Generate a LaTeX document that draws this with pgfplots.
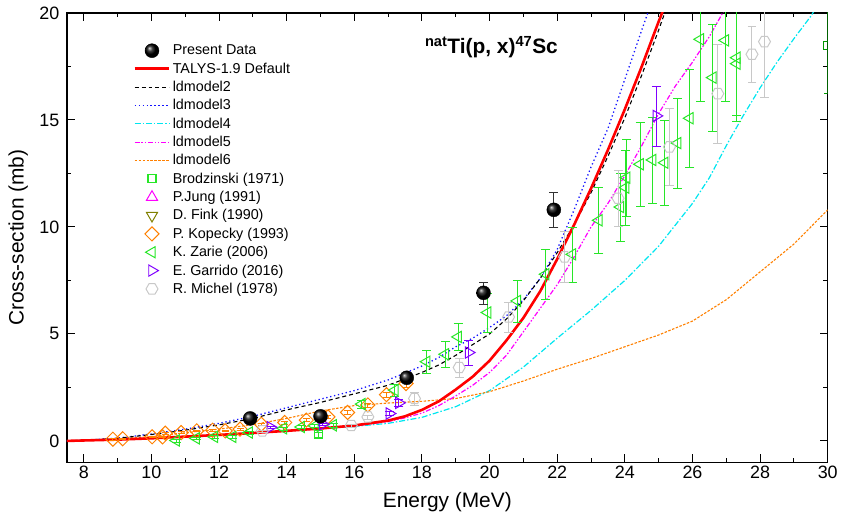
\documentclass[border=0pt]{standalone}
\usepackage{fontspec}
\setmainfont{Liberation Sans}
\usepackage{pgfplots}
\pgfplotsset{compat=1.18}
\definecolor{cgreen}{RGB}{40,230,40}
\definecolor{cmag}{RGB}{255,0,255}
\definecolor{colive}{RGB}{128,128,0}
\definecolor{corange}{RGB}{255,128,0}
\definecolor{cpurple}{RGB}{128,0,255}
\definecolor{cgray}{RGB}{200,200,200}
\definecolor{cblue}{RGB}{20,20,255}
\definecolor{ccyan}{RGB}{0,230,240}
\definecolor{cred}{RGB}{255,0,0}
\definecolor{cdkgreen}{RGB}{0,150,0}
\pgfdeclareplotmark{hexagon}{%
  \pgfpathmoveto{\pgfqpointpolar{0}{\pgfplotmarksize}}%
  \pgfpathlineto{\pgfqpointpolar{60}{\pgfplotmarksize}}%
  \pgfpathlineto{\pgfqpointpolar{120}{\pgfplotmarksize}}%
  \pgfpathlineto{\pgfqpointpolar{180}{\pgfplotmarksize}}%
  \pgfpathlineto{\pgfqpointpolar{240}{\pgfplotmarksize}}%
  \pgfpathlineto{\pgfqpointpolar{300}{\pgfplotmarksize}}%
  \pgfpathclose\pgfusepathqstroke}
\pgfplotsset{
  legline/.style={legend image code/.code={\draw[##1] (0bp,0bp) -- (35bp,0bp);}},
  legmark/.style={legend image code/.code={\draw[mark repeat=2,mark phase=2,##1] plot coordinates {(0bp,0bp) (17.5bp,0bp) (35bp,0bp)};}},
  errs/.style={error bars/y dir=both, error bars/y explicit},
}
\begin{document}
\begin{tikzpicture}
\begin{axis}[
  width=762bp, height=450bp, scale only axis,
  xmin=7.5, xmax=30, ymin=-1, ymax=20,
  xtick={8,10,...,30}, minor x tick num=1,
  ytick={0,5,...,20}, minor y tick num=1,
  tick pos=both, tick align=inside,
  major tick length=8bp, minor tick length=4.5bp,
  axis line style={line width=1.3bp},
  every tick/.style={line width=1bp, black},
  /pgf/number format/assume math mode=true,
  ticklabel style={font=\fontsize{18}{21}\selectfont},
  yticklabel style={xshift=-4bp},
  xlabel={Energy (MeV)}, ylabel={Cross-section (mb)},
  label style={font=\fontsize{21}{24}\selectfont},
  ylabel style={at={(axis description cs:-0.064,0.5)}, anchor=center, inner sep=0pt},
  xlabel style={at={(axis description cs:0.5,-0.088)}, anchor=center},
  clip marker paths=true,
  legend cell align=left,
  legend style={draw=none, fill=none, at={(0.083,0.938)}, anchor=north west,
    font=\fontsize{14.4}{16}\selectfont, row sep=2.5bp},
]
% legend images
\addlegendimage{legmark, only marks, mark=ball, mark size=7bp, ball color=black}
\addlegendentry{Present Data}
\addlegendimage{legline, cred, line width=2.6bp}
\addlegendentry{TALYS-1.9 Default}
\addlegendimage{legline, black, line width=1.1bp, dash pattern=on 4bp off 3bp}
\addlegendentry{ldmodel2}
\addlegendimage{legline, cblue, line width=1.3bp, dash pattern=on 1.3bp off 2.7bp}
\addlegendentry{ldmodel3}
\addlegendimage{legline, ccyan, line width=1.3bp, dash pattern=on 6bp off 2bp on 1.5bp off 2bp}
\addlegendentry{ldmodel4}
\addlegendimage{legline, draw=cmag, line width=1.3bp, dash pattern=on 5bp off 1.8bp on 1.5bp off 1.8bp on 1.5bp off 1.8bp}
\addlegendentry{ldmodel5}
\addlegendimage{legline, draw=corange, line width=1.3bp, dash pattern=on 2.5bp off 1.5bp}
\addlegendentry{ldmodel6}
\addlegendimage{legmark, only marks, draw=cgreen, mark=square, mark size=4bp, mark options={line width=1.1bp, draw=cgreen}}
\addlegendentry{Brodzinski (1971)}
\addlegendimage{legmark, only marks, cmag, mark=triangle, mark size=6.5bp, mark options={line width=1bp}}
\addlegendentry{P.Jung (1991)}
\addlegendimage{legmark, only marks, colive, mark=triangle, mark size=6.5bp, mark options={line width=1bp, rotate=180}}
\addlegendentry{D. Fink (1990)}
\addlegendimage{legmark, only marks, corange, mark=square, mark size=5bp, mark options={line width=1bp, rotate=45}}
\addlegendentry{P. Kopecky (1993)}
\addlegendimage{legmark, only marks, cgreen, mark=triangle, mark size=6.5bp, mark options={line width=1bp, rotate=90}}
\addlegendentry{K. Zarie (2006)}
\addlegendimage{legmark, only marks, cpurple, mark=triangle, mark size=6.5bp, mark options={line width=1bp, rotate=-90}}
\addlegendentry{E. Garrido (2016)}
\addlegendimage{legmark, only marks, cgray, mark=hexagon, mark size=6bp, mark options={line width=1bp}}
\addlegendentry{R. Michel (1978)}

% model curves
\addplot[forget plot, ccyan, line width=1.2bp, dash pattern=on 6bp off 2bp on 1.5bp off 2bp] coordinates {
(7.5,0) (8,0.02) (9,0.06) (10,0.12) (11,0.2) (12,0.28) (13,0.37) (14,0.47) (15,0.57) (16,0.68) (17,0.82) (18,1.1) (19,1.6) (20,2.35) (21,3.45) (22,4.8) (23,6.1) (24,7.5) (25,9.1) (26,11.1) (26.5,12.3) (27,13.8) (27.5,15.2) (28,16.5) (28.5,17.7) (29,18.8) (29.5,19.85) (29.6,20.1)};
\addplot[forget plot, corange, line width=1.1bp, dash pattern=on 2.5bp off 1.5bp] coordinates {
(7.5,0) (8,0.02) (9,0.1) (10,0.2) (11,0.38) (12,0.55) (13,0.76) (14,1.05) (15,1.4) (16,1.65) (17,1.77) (18,1.85) (19,1.98) (20,2.3) (21,2.8) (22,3.35) (23,3.85) (24,4.4) (25,4.95) (26,5.6) (27,6.6) (28,7.9) (29,9.2) (30,10.8)};
\addplot[forget plot, cmag, line width=1.2bp, dash pattern=on 5bp off 1.8bp on 1.5bp off 1.8bp on 1.5bp off 1.8bp] coordinates {
(7.5,0) (8,0.02) (9,0.06) (10,0.12) (11,0.2) (12,0.28) (13,0.37) (14,0.47) (15,0.57) (16,0.7) (17,0.9) (17.5,1.08) (18,1.3) (18.5,1.65) (19,2.1) (19.5,2.6) (20,3.2) (20.5,4.0) (21,5.1) (21.5,6.2) (22,7.3) (22.5,8.6) (23,10.0) (23.5,11.1) (24,12.4) (24.5,13.8) (25,15.3) (25.5,16.6) (26,17.7) (26.5,18.9) (27,20.3)};
\addplot[forget plot, cblue, line width=1.3bp, dash pattern=on 1.3bp off 2.7bp] coordinates {
(7.5,0) (8,0.03) (9,0.13) (10,0.32) (11,0.55) (12,0.82) (13,1.15) (14,1.55) (15,1.95) (16,2.35) (17,2.85) (18,3.5) (18.5,3.9) (19,4.4) (19.5,4.8) (20,5.3) (20.5,5.85) (21,6.6) (21.5,7.6) (22,8.95) (22.5,10.8) (23,12.8) (23.5,14.6) (24,16.9) (24.5,19.2) (24.7,20.1)};
\addplot[forget plot, black, line width=1.1bp, dash pattern=on 4bp off 3bp] coordinates {
(7.5,0) (8,0.03) (9,0.12) (10,0.3) (11,0.5) (12,0.75) (13,1.05) (14,1.45) (15,1.8) (16,2.2) (17,2.6) (17.5,2.9) (18,3.2) (18.5,3.55) (19,4.0) (19.5,4.5) (20,5.0) (20.5,5.7) (21,6.55) (21.5,7.6) (22,8.8) (22.5,10.1) (23,11.6) (23.5,13.3) (24,15.1) (24.5,17.1) (25,19.2) (25.2,20.1)};
\addplot[forget plot, cred, line width=2.6bp] coordinates {
(7.5,0) (8,0.02) (9,0.06) (10,0.12) (11,0.2) (12,0.28) (13,0.37) (14,0.47) (15,0.58) (16,0.72) (17,0.95) (17.5,1.15) (18,1.45) (18.5,1.85) (19,2.4) (19.5,3.0) (20,3.75) (20.5,4.7) (21,5.75) (21.5,7.0) (22,8.5) (22.5,10.1) (23,11.8) (23.5,13.6) (24,15.5) (24.5,17.5) (25,19.6) (25.2,20.4)};

% experimental data
% Brodzinski
\addplot[forget plot, only marks, cgreen, mark=square, mark size=4bp, mark options={line width=1bp}, errs,
  error bars/error bar style={cgreen, line width=0.9bp}, error bars/error mark options={rotate=90, mark size=4bp, cgreen}]
  table[x index=0, y index=1, y error index=2] {
14.95 0.30 0.12
};
\addplot[forget plot, only marks, cdkgreen, mark=square, mark size=4bp, mark options={line width=1bp}, errs,
  error bars/error bar style={cdkgreen, line width=1.2bp}, error bars/error mark options={rotate=90, mark size=4bp, cdkgreen}]
  table[x index=0, y index=1, y error index=2] {
30.0 18.5 2.25
};
% Kopecky
\addplot[forget plot, only marks, corange, mark=square, mark size=5bp, mark options={line width=1bp, rotate=45}, errs,
  error bars/error bar style={corange, line width=0.8bp}, error bars/error mark options={rotate=90, mark size=3.5bp, corange}]
  table[x index=0, y index=1, y error index=2] {
8.86 0.08 0.03
9.15 0.10 0.03
10.02 0.19 0.03
10.33 0.19 0.03
10.41 0.36 0.04
10.88 0.39 0.04
11.34 0.47 0.04
11.81 0.50 0.04
12.18 0.47 0.04
12.62 0.55 0.05
13.25 0.78 0.06
13.94 0.86 0.06
14.58 0.97 0.07
15.22 1.12 0.08
15.80 1.33 0.09
16.40 1.68 0.1
16.95 2.16 0.12
17.53 2.68 0.15
};
% Zarie
\addplot[forget plot, only marks, cgreen, mark=triangle, mark size=6.5bp, mark options={line width=1bp, rotate=90}, errs,
  error bars/error bar style={cgreen, line width=1bp}, error bars/error mark options={rotate=90, mark size=4.5bp, cgreen}]
  table[x index=0, y index=1, y error index=2] {
10.73 0.02 0.06
11.32 0.12 0.06
11.86 0.19 0.06
12.40 0.19 0.06
12.89 0.39 0.06
13.90 0.59 0.07
14.43 0.65 0.07
14.83 0.70 0.07
15.37 0.73 0.08
16.22 1.72 0.2
17.20 2.37 0.3
18.14 3.70 0.55
18.69 4.05 0.6
19.07 4.86 0.64
19.94 6.00 0.9
20.82 6.54 0.97
21.66 7.79 1.17
22.45 8.72 1.28
23.23 10.31 1.54
23.87 10.93 1.6
24.02 11.84 1.75
24.05 12.30 1.8
24.45 12.93 1.95
24.82 13.13 2.0
25.18 13.00 2.0
25.56 13.92 2.1
25.92 15.08 2.28
26.23 18.77 2.9
26.60 16.98 2.5
26.97 18.72 2.85
27.31 17.91 2.7
27.31 17.63 2.7
};
% Garrido
\addplot[forget plot, only marks, cpurple, mark=triangle, mark size=6.5bp, mark options={line width=1bp, rotate=-90}, errs,
  error bars/error bar style={cpurple, line width=1bp}, error bars/error mark options={rotate=90, mark size=4.5bp, cpurple}]
  table[x index=0, y index=1, y error index=2] {
13.52 0.64 0.05
15.07 0.78 0.05
17.04 1.28 0.1
17.32 1.78 0.15
19.38 4.13 0.57
24.93 15.19 1.4
};
% Michel
\addplot[forget plot, only marks, cgray, mark=hexagon, mark size=6bp, mark options={line width=1bp}, errs,
  error bars/error bar style={cgray, line width=1bp}, error bars/error mark options={rotate=90, mark size=4.5bp, cgray}]
  table[x index=0, y index=1, y error index=2] {
13.28 0.47 0.05
15.91 0.72 0.08
16.40 1.12 0.1
17.78 1.98 0.3
19.10 3.43 0.45
20.56 5.79 0.7
22.22 8.60 1.2
23.80 11.34 1.3
25.32 13.74 1.8
26.75 16.23 2.3
27.76 18.07 1.3
28.13 18.66 2.6
};
% Present data
\addplot[forget plot, only marks, black, mark=ball, mark size=7bp, ball color=black, errs,
  error bars/error bar style={black!80, line width=1bp}, error bars/error mark options={rotate=90, mark size=4.5bp, black!80}]
  table[x index=0, y index=1, y error index=2] {
12.92 1.05 0.1
15.00 1.15 0.1
17.55 2.95 0.15
19.82 6.92 0.52
21.90 10.80 0.82
};
\node[font=\fontsize{21}{26}\bfseries] at (rel axis cs:0.558,0.924) {\textsuperscript{nat}Ti(p, x)\textsuperscript{47}Sc};
\end{axis}
\path ([yshift=13bp]current axis.north);
\path ([xshift=-67bp]current axis.west);
\end{tikzpicture}
\end{document}
